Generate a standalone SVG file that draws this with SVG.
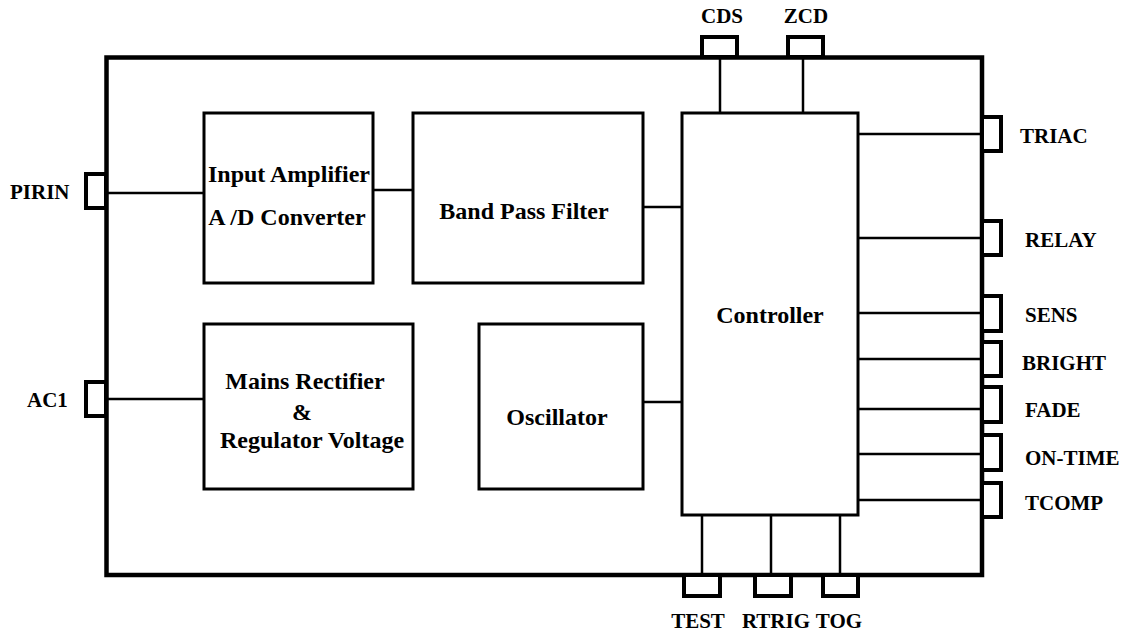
<svg xmlns="http://www.w3.org/2000/svg" width="1129" height="633" viewBox="0 0 1129 633">
<style>
.outer{fill:none;stroke:#000;stroke-width:4.5}
.box{fill:#fff;stroke:#000;stroke-width:3}
.pin{fill:#fff;stroke:#000;stroke-width:4}
.wire{fill:none;stroke:#000;stroke-width:2.5}
text{font-family:"Liberation Serif","Times New Roman",serif;font-weight:bold;fill:#000}
.t{font-size:24px;text-anchor:middle}
.p{font-size:21px}
.pm{font-size:21px;text-anchor:middle}
</style>
<rect width="1129" height="633" fill="#fff"/>
<g id="chip">
<rect class="outer" x="106.5" y="57.5" width="875.5" height="517.5"/>
</g>
<g id="connectors">
<line class="wire" x1="106" y1="193" x2="204" y2="193"/>
<line class="wire" x1="373" y1="190" x2="413" y2="190"/>
<line class="wire" x1="643" y1="207" x2="682" y2="207"/>
<line class="wire" x1="106" y1="399" x2="204" y2="399"/>
<line class="wire" x1="643" y1="402" x2="682" y2="402"/>
<line class="wire" x1="720" y1="57" x2="720" y2="113"/>
<line class="wire" x1="803" y1="57" x2="803" y2="113"/>
<line class="wire" x1="858" y1="134" x2="982" y2="134"/>
<line class="wire" x1="858" y1="238" x2="982" y2="238"/>
<line class="wire" x1="858" y1="313" x2="982" y2="313"/>
<line class="wire" x1="858" y1="359" x2="982" y2="359"/>
<line class="wire" x1="858" y1="409" x2="982" y2="409"/>
<line class="wire" x1="858" y1="454" x2="982" y2="454"/>
<line class="wire" x1="858" y1="500" x2="982" y2="500"/>
<line class="wire" x1="702" y1="515" x2="702" y2="575"/>
<line class="wire" x1="771" y1="515" x2="771" y2="575"/>
<line class="wire" x1="840" y1="515" x2="840" y2="575"/>
</g>
<g id="input-amplifier">
<rect class="box" x="204" y="113" width="169" height="170"/>
<text class="t" x="289" y="182">Input Amplifier</text>
<text class="t" x="287" y="225">A /D Converter</text>
</g>
<g id="band-pass-filter">
<rect class="box" x="413" y="113" width="230" height="170"/>
<text class="t" x="524" y="219">Band Pass Filter</text>
</g>
<g id="controller">
<rect class="box" x="682" y="113" width="176" height="402"/>
<text class="t" x="770" y="323">Controller</text>
</g>
<g id="mains-rectifier">
<rect class="box" x="204" y="324" width="209" height="165"/>
<text class="t" x="305" y="389">Mains Rectifier</text>
<text class="t" x="302" y="420">&amp;</text>
<text class="t" x="312" y="448">Regulator Voltage</text>
</g>
<g id="oscillator">
<rect class="box" x="479" y="324" width="164" height="165"/>
<text class="t" x="557" y="425">Oscillator</text>
</g>
<g id="pin-pirin">
<rect class="pin" x="86" y="174" width="20" height="34"/>
<text class="p" x="10" y="199">PIRIN</text>
</g>
<g id="pin-ac1">
<rect class="pin" x="86" y="382" width="20" height="34"/>
<text class="p" x="27" y="407">AC1</text>
</g>
<g id="pin-cds">
<rect class="pin" x="702" y="37" width="35" height="20"/>
<text class="pm" x="722" y="23">CDS</text>
</g>
<g id="pin-zcd">
<rect class="pin" x="788" y="37" width="35" height="20"/>
<text class="pm" x="806" y="23">ZCD</text>
</g>
<g id="pin-triac">
<rect class="pin" x="982" y="117" width="19" height="34"/>
<text class="p" x="1020" y="143">TRIAC</text>
</g>
<g id="pin-relay">
<rect class="pin" x="982" y="221" width="19" height="34"/>
<text class="p" x="1025" y="247">RELAY</text>
</g>
<g id="pin-sens">
<rect class="pin" x="982" y="296" width="19" height="35"/>
<text class="p" x="1025" y="322">SENS</text>
</g>
<g id="pin-bright">
<rect class="pin" x="982" y="342" width="19" height="34"/>
<text class="p" x="1022" y="370">BRIGHT</text>
</g>
<g id="pin-fade">
<rect class="pin" x="982" y="387" width="19" height="35"/>
<text class="p" x="1025" y="417">FADE</text>
</g>
<g id="pin-on-time">
<rect class="pin" x="982" y="435" width="19" height="35"/>
<text class="p" x="1025" y="465">ON-TIME</text>
</g>
<g id="pin-tcomp">
<rect class="pin" x="982" y="483" width="19" height="34"/>
<text class="p" x="1025" y="510">TCOMP</text>
</g>
<g id="pin-test">
<rect class="pin" x="684" y="575" width="36" height="21"/>
<text class="pm" x="698" y="628">TEST</text>
</g>
<g id="pin-rtrig">
<rect class="pin" x="755" y="575" width="36" height="21"/>
<text class="pm" x="776" y="628">RTRIG</text>
</g>
<g id="pin-tog">
<rect class="pin" x="823" y="575" width="35" height="21"/>
<text class="pm" x="839" y="628">TOG</text>
</g>
</svg>
